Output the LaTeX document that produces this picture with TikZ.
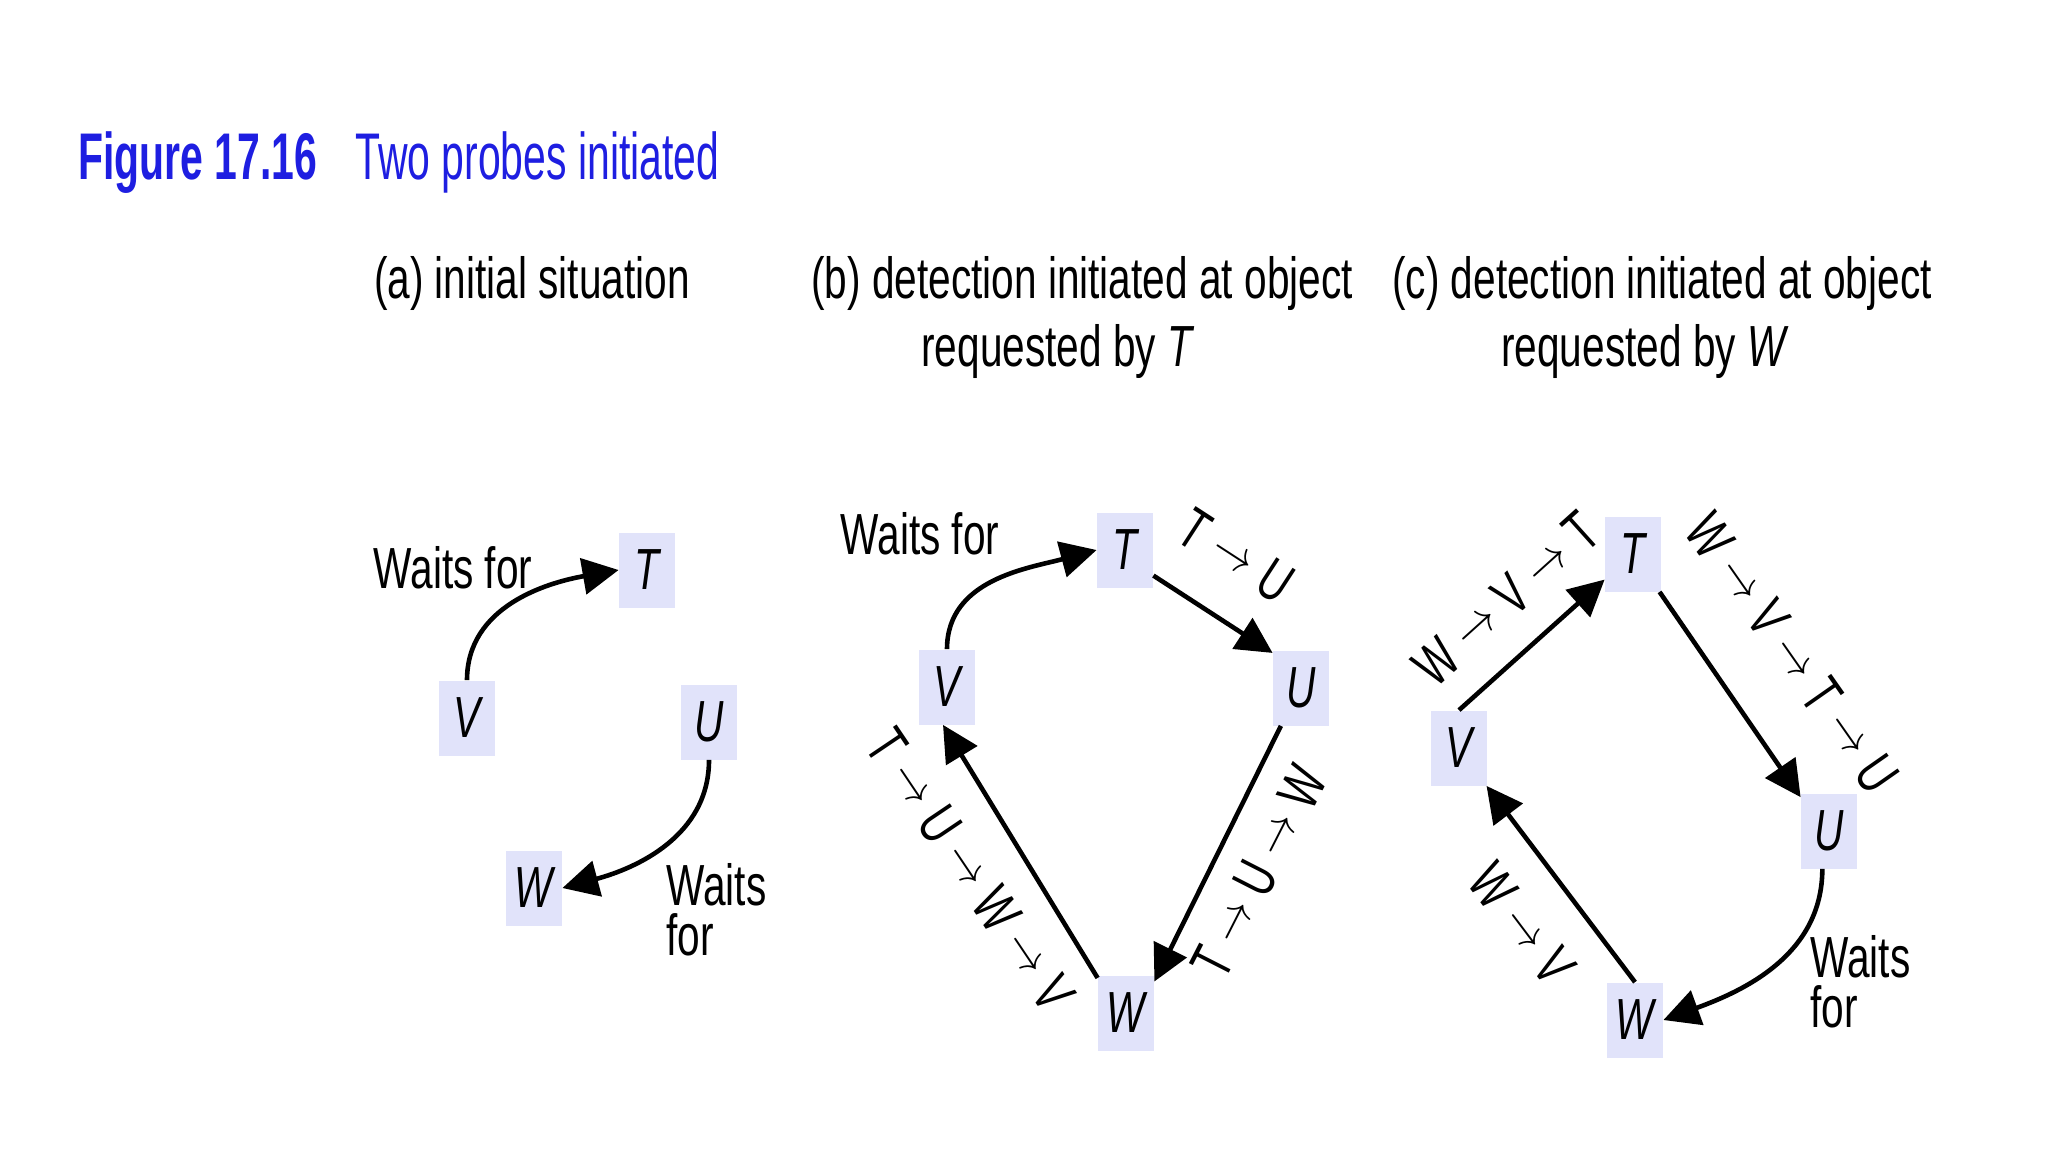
\documentclass[tikz,border=0pt]{standalone}
\usepackage{graphicx}
\usepackage{fontspec}
\setmainfont{Liberation Sans}[FakeStretch=0.70]
\newfontfamily\titlefont{Liberation Sans}[FakeStretch=0.62]
\usetikzlibrary{arrows.meta}
\definecolor{boxfill}{RGB}{225,227,250}
\definecolor{titleblue}{RGB}{30,30,225}
\newcommand{\parr}{\kern6.5pt\raisebox{3pt}{\scalebox{0.85}[1]{$\rightarrow$}}\kern6.5pt}
\begin{document}
\begin{tikzpicture}[x=0.5pt,y=0.5pt,
  font=\fontsize{29}{25}\selectfont,
  obj/.style={fill=boxfill, minimum width=28pt, minimum height=37.5pt, inner sep=0pt,
              font=\fontsize{29}{30}\selectfont\itshape},
  wf/.style={-{Triangle[length=18pt,width=18pt]}, line width=2.3pt},
  lbl/.style={inner sep=0pt},
  ttl/.style={anchor=base west, inner sep=0pt, text=titleblue}]
\path[use as bounding box] (0,0) rectangle (2048,-1152);

% title
\node[ttl, font=\titlefont\fontsize{33}{36}\selectfont\bfseries] (fig) at (78,-179) {Figure 17.16};
\node[ttl, font=\titlefont\fontsize{33}{36}\selectfont] (figt) at (355,-179) {Two probes initiated};

% panel headings
\node[lbl, anchor=base] (ha) at (532,-298) {(a) initial situation};
\node[lbl, anchor=base] (hb) at (1082,-298) {(b) detection initiated at object};
\node[lbl, anchor=base] (hb2) at (1058,-366) {requested by \textit{T}};
\node[lbl, anchor=base] (hc) at (1662,-298) {(c) detection initiated at object};
\node[lbl, anchor=base] (hc2) at (1645,-366) {requested by \textit{W}};

% panel (a)
\node[obj] (aT) at (647,-570) {T};
\node[obj] (aV) at (467,-718) {V};
\node[obj] (aU) at (709,-722) {U};
\node[obj] (aW) at (534,-888) {W};
\node[lbl, anchor=base] (awf1) at (453,-588) {Waits for};
\node[lbl, anchor=west, align=left] (awf2) at (666,-910) {Waits\\for};
\draw[wf] (aV.north) to[out=90,in=190] (aT.west);
\draw[wf] (aU.south) to[out=-90,in=15] (aW.east);

% panel (b)
\node[obj] (bT) at (1125,-550) {T};
\node[obj] (bV) at (947,-687) {V};
\node[obj] (bU) at (1301,-688) {U};
\node[obj] (bW) at (1126,-1013) {W};
\node[lbl, anchor=base] (bwf) at (920,-554) {Waits for};
\draw[wf] (bV.north) to[out=90,in=195] (bT.west);
\draw[wf] (bT.-42) -- (bU.129);
\draw[wf] (bU.-118) -- (bW.48);
\draw[wf] (bW.129) -- (bV.-96);
\node[lbl, rotate=-33] (lb1) at (1236,-556) {T\parr U};
\node[lbl, rotate=63] (lb2) at (1259,-872) {T\parr U\parr W};
\node[lbl, rotate=-56] (lb3) at (970,-870) {T\parr U\parr W\parr V};

% panel (c)
\node[obj] (cT) at (1633,-554) {T};
\node[obj] (cV) at (1459,-748) {V};
\node[obj] (cU) at (1829,-831) {U};
\node[obj] (cW) at (1635,-1020) {W};
\node[lbl, anchor=west, align=left] (cwf) at (1810,-982) {Waits\\for};
\draw[wf] (cV.north) -- (cT.-138);
\draw[wf] (cT.-55) -- (cU.130);
\draw[wf] (cW.north) -- (cV.-54);
\draw[wf] (cU.-100) to[out=-90,in=20] (cW.east);
\node[lbl, rotate=42] (lc1) at (1506,-599) {W\parr V\parr T};
\node[lbl, rotate=-55] (lc2) at (1792,-653) {W\parr V\parr T\parr U};
\node[lbl, rotate=-53] (lc3) at (1522,-924) {W\parr V};
\end{tikzpicture}
\end{document}
